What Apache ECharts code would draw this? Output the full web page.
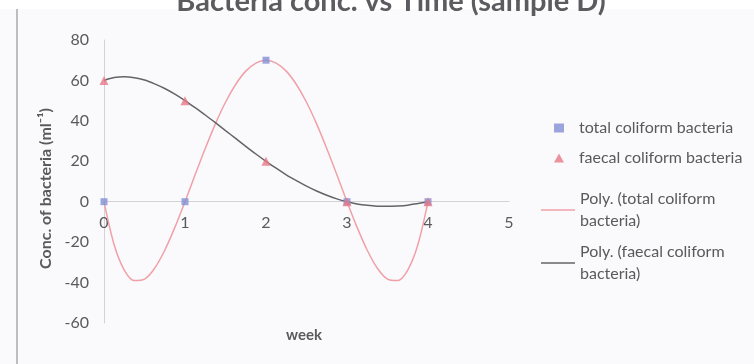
<!DOCTYPE html>
<html>
<head>
<meta charset="utf-8">
<script src="https://cdn.jsdelivr.net/npm/echarts@6/dist/echarts.min.js"></script>
<style>
  html, body { margin: 0; padding: 0; background: #fafafc; }
  #chart { width: 754px; height: 364px; }
</style>
</head>
<body>
<div id="chart"></div>
<script>
// Sampling weeks and measured concentrations
const weeks = [0, 1, 2, 3, 4];
const totalColiform = [0, 0, 70, 0, 0];
const faecalColiform = [60, 50, 20, 0, 0];

// Polynomial trendline readings, every eighth of a week
const trendWeeks = [
  0, 0.125, 0.25, 0.375, 0.5, 0.625, 0.75, 0.875,
  1, 1.125, 1.25, 1.375, 1.5, 1.625, 1.75, 1.875,
  2, 2.125, 2.25, 2.375, 2.5, 2.625, 2.75, 2.875,
  3, 3.125, 3.25, 3.375, 3.5, 3.625, 3.75, 3.875, 4
];
const totalTrend = [
  0, -21.3, -33.8, -39.0, -38.3, -32.9, -24.0, -12.7,
  0, 13.3, 26.3, 38.5, 49.2, 58.0, 64.6, 68.6,
  70, 68.6, 64.6, 58.0, 49.2, 38.5, 26.3, 13.3,
  0, -12.7, -24.0, -32.9, -38.3, -39.0, -33.8, -21.3, 0
];
const faecalTrend = [
  60, 61.4, 61.8, 61.3, 60.2, 58.3, 56.0, 53.2,
  50, 46.5, 42.9, 39.1, 35.2, 31.3, 27.4, 23.6,
  20, 16.6, 13.3, 10.4, 7.7, 5.3, 3.2, 1.4,
  0, -1.1, -1.8, -2.2, -2.3, -2.1, -1.7, -0.9, 0
];

// Axis ticks
const xTicks = [0, 1, 2, 3, 4, 5];
const yTicks = [-60, -40, -20, 0, 20, 40, 60, 80];

const names = {
  total: 'total coliform bacteria',
  faecal: 'faecal coliform bacteria',
  totalPoly: 'Poly. (total coliform\nbacteria)',
  faecalPoly: 'Poly. (faecal coliform\nbacteria)'
};

const FONT = 'Lato, "Open Sans", sans-serif';
const TEXT = '#5a5a5e';

const GRID_TOP = 40, GRID_BOTTOM = 41, CHART_H = 364;
const plotH = CHART_H - GRID_TOP - GRID_BOTTOM;
// distance from the bottom edge of the plot up to the zero line
const zeroLift = plotH * (0 - yTicks[0]) / (yTicks[yTicks.length - 1] - yTicks[0]);

const pairs = (xs, ys) => xs.map((x, i) => [x, ys[i]]);

const chart = echarts.init(document.getElementById('chart'), null, { renderer: 'canvas' });

chart.setOption({
  backgroundColor: '#fafafc',
  animation: false,
  title: {
    text: 'Bacteria conc. vs Time (sample D)',
    left: 391,
    textAlign: 'center',
    top: -13,
    padding: 0,
    textStyle: { fontFamily: FONT, fontSize: 29, fontWeight: 'bold', color: '#5c5c60' }
  },
  graphic: [
    { type: 'rect', z: -10, shape: { x: 0, y: 0, width: 754, height: 9 }, style: { fill: '#ffffff' } },
    { type: 'line', shape: { x1: 17, y1: 9, x2: 17, y2: 364 }, style: { stroke: '#a8a8ac', lineWidth: 1.5 } },
    {
      type: 'text', left: 286, top: 328,
      style: { text: 'week', font: 'bold 15px ' + FONT, fill: TEXT }
    }
  ],
  grid: { left: 104, right: 245, top: GRID_TOP, bottom: GRID_BOTTOM, containLabel: false },
  xAxis: {
    type: 'value',
    position: 'bottom',
    offset: -zeroLift,
    min: xTicks[0],
    max: xTicks[xTicks.length - 1],
    interval: 1,
    axisLine: { onZero: false, lineStyle: { color: '#d2d2d8', width: 1 } },
    axisTick: { show: false },
    splitLine: { show: false },
    axisLabel: { margin: 13, fontFamily: FONT, fontSize: 16, color: TEXT }
  },
  yAxis: {
    type: 'value',
    min: yTicks[0],
    max: yTicks[yTicks.length - 1],
    interval: 20,
    name: 'Conc. of bacteria (ml\u207B\u00B9)',
    nameLocation: 'middle',
    nameGap: 48,
    nameTextStyle: { fontFamily: FONT, fontSize: 16, fontWeight: 'bold', color: TEXT, padding: [0, 14, 0, 0] },
    axisLine: { show: true, onZero: false, lineStyle: { color: '#d2d2d8', width: 1 } },
    axisTick: { show: false },
    splitLine: { show: false },
    axisLabel: { margin: 15, fontFamily: FONT, fontSize: 16, color: TEXT }
  },
  legend: [
    {
      orient: 'vertical', left: 554, top: 119, padding: 0, itemGap: 12,
      itemWidth: 10, itemHeight: 9,
      data: [
        { name: names.total, icon: 'rect' },
        { name: names.faecal, icon: 'triangle' }
      ],
      textStyle: { fontFamily: FONT, fontSize: 16, color: TEXT, lineHeight: 18, padding: [0, 0, 0, 10] }
    },
    {
      orient: 'vertical', left: 541, top: 177, padding: 0,
      itemWidth: 34, itemHeight: 1.5,
      data: [{ name: names.totalPoly, icon: 'rect' }],
      textStyle: { fontFamily: FONT, fontSize: 16, color: TEXT, lineHeight: 22, padding: [22, 0, 0, 0] }
    },
    {
      orient: 'vertical', left: 541, top: 230, padding: 0,
      itemWidth: 34, itemHeight: 1.5,
      data: [{ name: names.faecalPoly, icon: 'rect' }],
      textStyle: { fontFamily: FONT, fontSize: 16, color: TEXT, lineHeight: 22, padding: [22, 0, 0, 0] }
    }
  ],
  series: [
    {
      name: names.totalPoly,
      type: 'line',
      data: pairs(trendWeeks, totalTrend),
      smooth: 0.3,
      symbol: 'none',
      lineStyle: { color: '#f0a0a8', width: 1.5 },
      itemStyle: { color: '#f0a0a8' },
      z: 2
    },
    {
      name: names.faecalPoly,
      type: 'line',
      data: pairs(trendWeeks, faecalTrend),
      smooth: 0.3,
      symbol: 'none',
      lineStyle: { color: '#646468', width: 1.5 },
      itemStyle: { color: '#646468' },
      z: 2
    },
    {
      name: names.total,
      type: 'scatter',
      data: pairs(weeks, totalColiform),
      symbol: 'rect',
      symbolSize: 7,
      itemStyle: { color: '#8290d4' },
      z: 3
    },
    {
      name: names.faecal,
      type: 'scatter',
      data: pairs(weeks, faecalColiform),
      symbol: 'triangle',
      symbolSize: 9,
      itemStyle: { color: '#e67885' },
      z: 4
    }
  ]
});
</script>
</body>
</html>
